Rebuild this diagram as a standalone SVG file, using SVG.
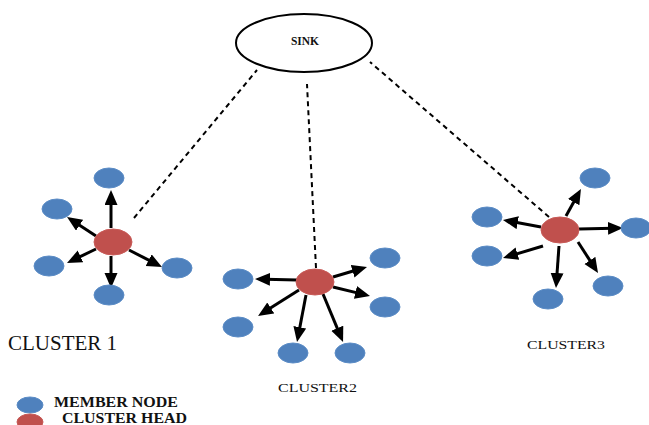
<svg xmlns="http://www.w3.org/2000/svg" width="649" height="425" viewBox="0 0 649 425">
  <defs>
    <marker id="head" markerUnits="userSpaceOnUse" markerWidth="16" markerHeight="14" refX="5" refY="6.5" orient="auto">
      <path d="M0,0 L15,6.5 L0,13 z" fill="#000"/>
    </marker>
  </defs>
  <style>
    .member { fill: #4f81bd; stroke: #5b8cc6; stroke-width: 1; }
    .chead { fill: #c0504d; stroke: #c85a57; stroke-width: 1; }
    .arrow { stroke: #000; stroke-width: 3; fill: none; marker-end: url(#head); }
    .dash { stroke: #000; stroke-width: 2; stroke-dasharray: 5 4; fill: none; }
    .lbl { font-family: "Liberation Serif", "Times New Roman", serif; fill: #111; }
    .bold { font-weight: bold; }
  </style>
  <rect width="649" height="425" fill="#fff"/>

  <!-- links between sink and cluster heads, and head-to-member arrows -->
  <g id="connectors">
    <line class="dash" x1="134" y1="218" x2="257" y2="70"/>
    <line class="dash" x1="316" y1="268" x2="307" y2="84"/>
    <line class="dash" x1="549" y1="217" x2="370" y2="62"/>

    <line class="arrow" x1="111" y1="228" x2="111" y2="200"/>
    <line class="arrow" x1="96" y1="236" x2="75.4" y2="222.5"/>
    <line class="arrow" x1="96" y1="249" x2="76" y2="258.6"/>
    <line class="arrow" x1="111" y1="256" x2="111" y2="278"/>
    <line class="arrow" x1="129" y1="250" x2="153.1" y2="262.4"/>

    <line class="arrow" x1="297" y1="280" x2="265" y2="279.2"/>
    <line class="arrow" x1="299" y1="290" x2="266.5" y2="310.6"/>
    <line class="arrow" x1="306" y1="295" x2="298.9" y2="332.2"/>
    <line class="arrow" x1="323" y1="294" x2="339.2" y2="332.8"/>
    <line class="arrow" x1="333" y1="277" x2="357.4" y2="269.8"/>
    <line class="arrow" x1="333" y1="287" x2="360.3" y2="293.6"/>

    <line class="arrow" x1="566" y1="216" x2="576.1" y2="197.7"/>
    <line class="arrow" x1="579" y1="229" x2="613" y2="228.2"/>
    <line class="arrow" x1="541" y1="227" x2="512.8" y2="221.8"/>
    <line class="arrow" x1="543" y1="246" x2="512.6" y2="255.1"/>
    <line class="arrow" x1="559" y1="246" x2="556.7" y2="278"/>
    <line class="arrow" x1="578" y1="242" x2="592.6" y2="264.6"/>
  </g>

  <g id="sink">
    <ellipse cx="304" cy="43" rx="68" ry="29" fill="#fff" stroke="#000" stroke-width="2"/>
    <text class="lbl bold" x="305" y="45" font-size="11.5" text-anchor="middle">SINK</text>
  </g>

  <g id="cluster1">
    <ellipse class="chead" cx="113" cy="242" rx="19" ry="13"/>
    <ellipse class="member" cx="109" cy="178" rx="15" ry="10"/>
    <ellipse class="member" cx="57" cy="209" rx="15" ry="10"/>
    <ellipse class="member" cx="49" cy="266" rx="15" ry="10"/>
    <ellipse class="member" cx="109" cy="295" rx="15" ry="10"/>
    <ellipse class="member" cx="177" cy="268" rx="15" ry="10"/>
    <text class="lbl" x="8" y="350" font-size="21">CLUSTER 1</text>
  </g>

  <g id="cluster2">
    <ellipse class="chead" cx="315" cy="282" rx="19" ry="13"/>
    <ellipse class="member" cx="238" cy="279" rx="15" ry="10"/>
    <ellipse class="member" cx="238" cy="327" rx="15" ry="10"/>
    <ellipse class="member" cx="293" cy="353" rx="15" ry="10"/>
    <ellipse class="member" cx="350" cy="353" rx="15" ry="10"/>
    <ellipse class="member" cx="385" cy="258" rx="15" ry="10"/>
    <ellipse class="member" cx="385" cy="307" rx="15" ry="10"/>
    <text class="lbl" x="278" y="392" font-size="13" textLength="79" lengthAdjust="spacingAndGlyphs">CLUSTER2</text>
  </g>

  <g id="cluster3">
    <ellipse class="chead" cx="560" cy="230" rx="19" ry="13"/>
    <ellipse class="member" cx="595" cy="178" rx="15" ry="10"/>
    <ellipse class="member" cx="636" cy="228" rx="15" ry="10"/>
    <ellipse class="member" cx="487" cy="217" rx="15" ry="10"/>
    <ellipse class="member" cx="487" cy="256" rx="15" ry="10"/>
    <ellipse class="member" cx="548" cy="299" rx="15" ry="10"/>
    <ellipse class="member" cx="608" cy="286" rx="15" ry="10"/>
    <text class="lbl" x="527" y="349" font-size="13" textLength="78" lengthAdjust="spacingAndGlyphs">CLUSTER3</text>
  </g>

  <g id="legend">
    <ellipse class="member" cx="30" cy="405" rx="13" ry="8"/>
    <ellipse class="chead" cx="30" cy="422" rx="13" ry="8"/>
    <text class="lbl bold" x="54" y="407" font-size="14" textLength="124" lengthAdjust="spacingAndGlyphs">MEMBER NODE</text>
    <text class="lbl bold" x="62" y="423" font-size="14" textLength="125" lengthAdjust="spacingAndGlyphs">CLUSTER HEAD</text>
  </g>
</svg>
